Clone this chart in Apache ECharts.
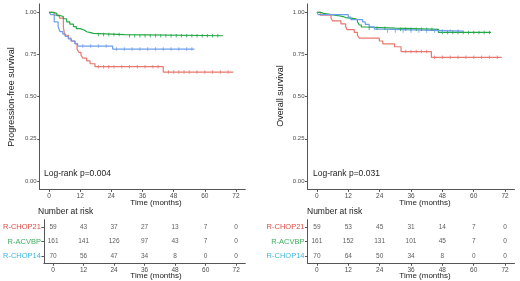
<!DOCTYPE html>
<html><head><meta charset="utf-8">
<script src="https://cdn.jsdelivr.net/npm/echarts@6/dist/echarts.min.js"></script>
<style>html,body{margin:0;padding:0;background:#fff}#c{width:520px;height:281px}</style>
</head><body><div id="c"></div>
<script>
// ---------- data ----------
const groups = ['R-CHOP21', 'R-ACVBP', 'R-CHOP14'];
const timeTicks = [0, 12, 24, 36, 48, 60, 72];
const survTicks = [0, 0.25, 0.5, 0.75, 1];

// Progression-free survival (KM step points)
const pfsRedT = [0, 2, 4, 5.5, 6, 7.5, 8.5, 10, 10.8, 11.5, 12.3, 13, 14.5, 15.8, 17.7, 44, 71];
const pfsRedS = [1, 0.983, 0.966, 0.915, 0.864, 0.847, 0.83, 0.813, 0.78, 0.763, 0.746, 0.729, 0.712, 0.695, 0.678, 0.646, 0.646];
const pfsGreenT = [0, 1.5, 3, 4.2, 5.5, 6.8, 8, 9.4, 10.5, 12, 13.5, 14.5, 16, 17.1, 29, 67];
const pfsGreenS = [1, 0.994, 0.981, 0.975, 0.962, 0.944, 0.93, 0.915, 0.903, 0.895, 0.885, 0.88, 0.875, 0.868, 0.861, 0.861];
const pfsBlueT = [0, 0.7, 2, 3.5, 4.2, 5.3, 6.3, 7.4, 8.5, 10, 11, 24.5, 56];
const pfsBlueS = [1, 0.986, 0.943, 0.914, 0.886, 0.871, 0.857, 0.843, 0.829, 0.814, 0.80, 0.782, 0.782];

// Overall survival
const osRedT = [0, 1.3, 5.4, 6, 9.2, 11, 11.5, 14.3, 15.5, 16.2, 23.9, 25.2, 29.7, 32.2, 43.8, 70.7];
const osRedS = [1, 0.983, 0.966, 0.949, 0.932, 0.915, 0.898, 0.881, 0.864, 0.847, 0.83, 0.813, 0.796, 0.767, 0.733, 0.733];
const osGreenT = [0, 1.5, 2.5, 5, 8, 10, 11, 14.5, 15.5, 16.2, 17, 18.5, 30, 46.5, 66.6];
const osGreenS = [1, 0.994, 0.988, 0.981, 0.975, 0.969, 0.963, 0.957, 0.944, 0.925, 0.913, 0.906, 0.899, 0.881, 0.881];
const osBlueT = [0, 0.5, 12, 13, 17.5, 18.5, 20, 22, 25, 56];
const osBlueS = [1, 0.986, 0.971, 0.957, 0.943, 0.929, 0.914, 0.90, 0.889, 0.889];

// censoring times
const pfsRedC = [19, 21, 23, 25, 28, 31, 34, 37, 40, 42, 46, 48, 50, 52, 54, 57, 60, 63, 66, 69];
const pfsGreenC = [19, 21, 23, 25, 27, 31, 33, 35, 37, 39, 41, 43, 45, 47, 49, 51, 53, 55, 57, 59, 61, 63, 65];
const pfsBlueC = [13, 16, 19, 22, 26, 29, 32, 35, 38, 41, 44, 47, 50, 53, 55];
const osRedC = [34, 36, 38, 40, 42, 45, 48, 51, 54, 57, 60, 63, 66, 69];
const osGreenC = [20, 23, 26, 32, 34, 36, 38, 40, 42, 44, 48, 50, 52, 54, 56, 58, 60, 62, 64, 66];
const osBlueC = [27, 30, 33, 36, 39, 42, 45, 48, 51, 54];

// number at risk
const pfsRiskRed = [59, 43, 37, 27, 13, 7, 0];
const pfsRiskGreen = [161, 141, 126, 97, 43, 7, 0];
const pfsRiskBlue = [70, 56, 47, 34, 8, 0, 0];
const osRiskRed = [59, 53, 45, 31, 14, 7, 0];
const osRiskGreen = [161, 152, 131, 101, 45, 7, 0];
const osRiskBlue = [70, 64, 50, 34, 8, 0, 0];

// ---------- styling ----------
const RED = '#E8776F', GREEN = '#22A845', BLUE = '#6D9EEB';
const LBL = {'R-CHOP21': '#E04A44', 'R-ACVBP': '#3FAE5F', 'R-CHOP14': '#3DB8DE'};
const FONT = "'Liberation Sans', Arial, sans-serif";
const AX = '#555', TXT = '#4D4D4D';

const panels = [
  {left: 39.7, width: 205.6},
  {left: 307.5, width: 207}
];

const grids = [], xAxes = [], yAxes = [], series = [];
panels.forEach((p, i) => {
  grids.push({left: p.left, width: p.width, top: 3.9, height: 185.5});
  grids.push({left: p.left, width: p.width, top: 219.75, height: 43.5});
});

function xAxisFor(gi) {
  return {
    type: 'value', gridIndex: gi, min: -3.6, max: 75.6,
    splitLine: {show: false},
    axisLine: {show: true, onZero: false, lineStyle: {color: AX, width: 1}},
    axisTick: {show: true, length: 2.5, customValues: timeTicks, lineStyle: {color: AX}},
    axisLabel: {customValues: timeTicks, fontSize: 6.5, color: TXT, fontFamily: FONT, margin: 3}
  };
}
[0, 1, 2, 3].forEach(gi => xAxes.push(xAxisFor(gi)));

function yAxisSurv(gi) {
  return {
    type: 'value', gridIndex: gi, min: -0.05, max: 1.05,
    splitLine: {show: false},
    axisLine: {show: true, onZero: false, lineStyle: {color: AX, width: 1}},
    axisTick: {show: true, length: 2.5, customValues: survTicks, lineStyle: {color: AX}},
    axisLabel: {customValues: survTicks, fontSize: 6, color: TXT, fontFamily: FONT, margin: 3,
      formatter: v => v.toFixed(2)}
  };
}
const rich = {};
groups.forEach((g, k) => { rich['g' + k] = {color: LBL[g], fontSize: 7.5, fontFamily: FONT}; });
function yAxisRisk(gi) {
  return {
    type: 'category', gridIndex: gi, data: groups.slice().reverse(),
    axisLine: {show: true, onZero: false, lineStyle: {color: AX, width: 1}},
    axisTick: {show: true, length: 2.5, alignWithLabel: true, interval: 0, lineStyle: {color: AX}},
    axisLabel: {margin: 3, interval: 0, hideOverlap: false,
      formatter: v => '{g' + groups.indexOf(v) + '|' + v + '}', rich: rich}
  };
}
yAxes.push(yAxisSurv(0), yAxisRisk(1), yAxisSurv(2), yAxisRisk(3));

function stepData(T, S) { return T.map((t, i) => [t, S[i]]); }
function survAt(T, S, t) { let v = S[0]; for (let i = 0; i < T.length; i++) { if (T[i] <= t) v = S[i]; } return v; }

function addCurve(gi, T, S, C, color) {
  series.push({
    type: 'line', xAxisIndex: gi, yAxisIndex: gi, step: 'end', showSymbol: false, silent: true,
    data: stepData(T, S), lineStyle: {color: color, width: 1.2}, z: 3
  });
  series.push({
    type: 'scatter', xAxisIndex: gi, yAxisIndex: gi, silent: true, symbol: 'rect', symbolSize: [1, 3.5],
    itemStyle: {color: color}, data: C.map(t => [t, survAt(T, S, t)]), z: 4
  });
}
addCurve(0, pfsRedT, pfsRedS, pfsRedC, RED);
addCurve(0, pfsBlueT, pfsBlueS, pfsBlueC, BLUE);
addCurve(0, pfsGreenT, pfsGreenS, pfsGreenC, GREEN);
addCurve(2, osRedT, osRedS, osRedC, RED);
addCurve(2, osGreenT, osGreenS, osGreenC, GREEN);
addCurve(2, osBlueT, osBlueS, osBlueC, BLUE);

function addRisk(gi, rows) {
  const data = [];
  rows.forEach((vals, k) => {
    vals.forEach((v, j) => data.push([timeTicks[j], groups[k], v]));
  });
  series.push({
    type: 'scatter', xAxisIndex: gi, yAxisIndex: gi, silent: true, symbolSize: 0,
    data: data,
    label: {show: true, position: 'inside', formatter: p => String(p.value[2]),
      fontSize: 6.5, color: '#333', fontFamily: FONT}
  });
}
addRisk(1, [pfsRiskRed, pfsRiskGreen, pfsRiskBlue]);
addRisk(3, [osRiskRed, osRiskGreen, osRiskBlue]);

function txt(x, y, s, opt) {
  return Object.assign({type: 'text', x: x, y: y, silent: true,
    style: Object.assign({text: s, fill: '#222', font: "8px " + FONT, textAlign: 'left', textVerticalAlign: 'middle'}, opt || {})});
}
const graphic = [
  txt(156, 203, 'Time (months)', {textAlign: 'center'}),
  txt(425, 203, 'Time (months)', {textAlign: 'center'}),
  txt(156, 276, 'Time (months)', {textAlign: 'center'}),
  txt(425, 276, 'Time (months)', {textAlign: 'center'}),
  txt(44, 174, 'Log-rank p=0.004', {font: "8.5px " + FONT}),
  txt(313, 174, 'Log-rank p=0.031', {font: "8.5px " + FONT}),
  txt(38, 212, 'Number at risk', {font: "8.5px " + FONT}),
  txt(307, 212, 'Number at risk', {font: "8.5px " + FONT}),
  Object.assign(txt(0, 0, 'Progression-free survival', {textAlign: 'center', font: "9px " + FONT}), {x: 12, y: 97, rotation: Math.PI / 2}),
  Object.assign(txt(0, 0, 'Overall survival', {textAlign: 'center', font: "9px " + FONT}), {x: 281, y: 96, rotation: Math.PI / 2})
];

const chart = echarts.init(document.getElementById('c'), null, {renderer: 'canvas'});
chart.setOption({
  animation: false, backgroundColor: '#fff',
  grid: grids, xAxis: xAxes, yAxis: yAxes, series: series, graphic: graphic
});
</script></body></html>
